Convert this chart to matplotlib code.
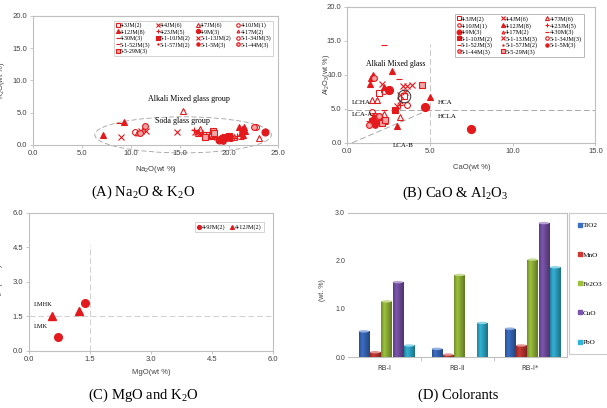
import numpy as np
import matplotlib
matplotlib.use('Agg')
from matplotlib import pyplot as plt
from matplotlib import colors as mcolors
from matplotlib.patches import Ellipse
from matplotlib.lines import Line2D

plt.rcParams['font.family'] = ['Liberation Sans', 'DejaVu Sans']

# ---------------- data ----------------
labels_a = ['4-3JM(2)', '4-4JM(6)', '4-7JM(6)', '4-10JM(1)', '4-12JM(8)', '4-23JM(5)',
            '4-9M(3)', '4-17M(2)', '4-30M(3)', '5-1-10JM(2)', '5-1-13JM(2)', '5-1-34JM(3)',
            '5-1-52JM(3)', '5-1-57JM(2)', '5-1-5M(3)', '5-1-44M(3)', '5-5-29M(3)']
labels_b = ['4-3JM(2)', '4-4JM(6)', '4-7JM(6)', '4-10JM(1)', '4-12JM(8)', '4-23JM(5)',
            '4-9M(3)', '4-17M(2)', '4-30M(3)', '5-1-10JM(2)', '5-1-13JM(3)', '5-1-34JM(3)',
            '5-1-52JM(3)', '5-1-57JM(2)', '5-1-5M(3)', '5-1-44M(3)', '5-5-29M(3)']

# (A) Na2O vs K2O
na2o = [[17.6, 17.9], [9.0, 14.7, 16.5, 11.0, 17.0, 18.5],
        [15.3, 17.0, 23.0, 16.8, 20.5, 18.2], [22.7],
        [7.1, 9.3, 21.0, 21.3, 21.5, 21.2, 21.4, 21.6],
        [17.2, 18.4, 19.4, 20.8, 16.4], [19.0, 19.3, 23.6], [10.6, 11.2],
        [8.8, 20.3, 21.2], [19.6, 20.0], [11.5, 16.7], [10.4, 18.1, 20.2],
        [19.5, 19.8, 20.6], [18.8, 20.1], [19.1, 19.4, 19.8], [10.9, 11.4, 22.5],
        [18.3, 18.4, 17.5]]
k2o = [[1.6, 1.5], [1.2, 2.0, 2.0, 2.2, 1.8, 1.3],
       [5.3, 2.4, 1.0, 1.9, 1.2, 1.4], [2.8],
       [1.5, 3.5, 2.8, 2.5, 2.7, 1.9, 1.6, 2.2],
       [1.5, 1.2, 1.0, 1.3, 2.3], [0.8, 1.1, 2.0], [1.8, 2.4],
       [3.4, 1.0, 0.9], [1.2, 1.4], [2.1, 2.0], [2.0, 1.4, 1.0],
       [0.9, 0.7, 1.0], [1.1, 0.8], [0.9, 0.6, 1.0], [1.9, 2.9, 2.7],
       [2.2, 1.8, 1.2]]

# (B) CaO vs Al2O3
cao = [[3.45, 1.9], [2.1, 3.6, 3.9, 3.2, 3.5, 1.7],
       [1.5, 1.8, 3.2, 2.0, 1.6, 2.2], [3.6],
       [1.55, 1.45, 1.4, 2.7, 2.2, 5.0, 3.0, 1.7],
       [1.5, 2.0, 1.8, 3.2, 1.3], [4.7, 7.5, 2.5], [1.9, 2.1],
       [3.1, 2.2, 1.6], [2.9, 2.1], [3.0, 3.4, 3.2], [1.5, 2.2, 1.7],
       [2.2, 1.9, 2.3], [1.6, 2.0], [1.4, 1.7, 1.5], [1.3, 1.6, 1.9],
       [4.5, 2.1, 2.3]]
al2o3 = [[6.9, 7.4], [8.7, 8.4, 8.5, 7.0, 7.5, 3.9],
         [6.3, 6.3, 3.8, 3.5, 3.0, 4.2], [5.5],
         [10.0, 9.6, 8.6, 10.6, 8.2, 6.7, 2.4, 3.3],
         [3.6, 4.0, 2.8, 5.6, 3.2], [5.3, 2.1, 7.7], [3.1, 2.9],
         [9.4, 4.8, 4.4], [4.8, 3.2], [5.4, 8.4, 6.2], [4.6, 7.6, 3.6],
         [14.4, 4.2, 2.7], [3.9, 2.6], [2.8, 2.6, 3.4], [2.6, 9.5, 4.0],
         [8.5, 2.9, 3.3]]
highlight_b = (0, 0)  # series, point circled in black

# (C) MgO vs K2O
labels_c = ['4-9JM(2)', '4-12JM(2)']
mgo_c = [[0.7, 1.38], [0.55, 1.22]]
k2o_c = [[0.6, 2.08], [1.52, 1.73]]

# (D) colorants
groups_d = ['RB-\u2160', 'RB-\u2161', 'RB-\u2160*']
oxides_d = ['TiO2', 'MnO', 'Fe2O3', 'CuO', 'PbO']
values_d = [[0.535, 0.17, 0.59],
            [0.10, 0.05, 0.24],
            [1.16, 1.71, 2.03],
            [1.56, 0.0, 2.79],
            [0.24, 0.71, 1.87]]
colors_d = ['#3b6fc6', '#cc3a33', '#9cc23c', '#7d55ae', '#31b4d6']

# ---------------- styles ----------------
red = '#e3191c'
pink = '#f4a4a4'
styles = [('s', 'none', 4.2), ('x', red, 4.2), ('^', 'none', 4.8), ('o', 'none', 4.2),
          ('^', red, 4.8), ('+', red, 4.2), ('o', red, 5.0), ('^', 'none', 3.4),
          ('_', red, 4.0), ('s', red, 4.2), ('x', red, 3.8), ('o', 'none', 4.2),
          ('_', red, 5.0), ('.', red, 3.0), ('o', red, 4.0), ('o', pink, 4.2),
          ('s', pink, 4.2)]

grid_c = '#c8c8c8'
spine_c = '#bfbfbf'
tick_c = '#404040'


def style_axes(ax):
    for s in ax.spines.values():
        s.set_color(spine_c)
        s.set_linewidth(0.8)
    ax.tick_params(labelsize=5.5, labelcolor=tick_c, color=spine_c, length=2, width=0.6, pad=2)


def row_major(n, ncol):
    nrow = int(np.ceil(n / ncol))
    return [r * ncol + c for c in range(ncol) for r in range(nrow) if r * ncol + c < n]


fig = plt.figure(figsize=(6.07, 4.08), dpi=100)

# ---------------- (A) ----------------
axa = fig.add_axes([0.0544, 0.645, 0.404, 0.316])
handles = []
for i, lab in enumerate(labels_a):
    m, fc, ms = styles[i]
    h, = axa.plot(na2o[i], k2o[i], linestyle='none', marker=m, markersize=ms,
                  markerfacecolor=fc, markeredgecolor=red, markeredgewidth=0.8,
                  label=lab, zorder=3)
    handles.append(h)
axa.set_xlim(0, 25)
axa.set_ylim(0, 20)
axa.set_xticks(np.arange(0, 26, 5))
axa.set_yticks(np.arange(0, 21, 5))
axa.xaxis.set_major_formatter('{x:.1f}')
axa.yaxis.set_major_formatter('{x:.1f}')
style_axes(axa)
axa.set_xlabel('Na$\\mathregular{_2}$O(wt %)', fontsize=5.5, color=tick_c)
axa.xaxis.set_label_coords(0.5, -0.15)
axa.set_ylabel('K$\\mathregular{_2}$O(wt %)', fontsize=5.5, color=tick_c)
axa.yaxis.set_label_coords(-0.105, 0.5)
axa.add_patch(Ellipse((15.3, 1.55), 18.0, 5.6, fill=False, edgecolor='#a0a0a0',
                      linestyle=(0, (6, 3)), linewidth=0.6, clip_on=False))
axa.text(15.9, 7.1, 'Alkali Mixed glass group', family='Liberation Serif',
         fontsize=5.8, ha='center', va='center')
axa.text(15.2, 3.7, 'Soda glass group', family='Liberation Serif',
         fontsize=5.8, ha='center', va='center')
order = row_major(len(handles), 4)
leg = axa.legend([handles[k] for k in order], [labels_a[k] for k in order], ncol=4,
                 loc='upper right', bbox_to_anchor=(0.99, 0.985),
                 prop={'family': 'Liberation Serif', 'size': 4.3},
                 frameon=True, fancybox=False, handlelength=0.6, handletextpad=0.1,
                 columnspacing=0.9, labelspacing=0.12, borderpad=0.3, markerscale=0.6)
leg.get_frame().set_edgecolor(spine_c)
leg.get_frame().set_linewidth(0.6)

# ---------------- (B) ----------------
axb = fig.add_axes([0.572, 0.650, 0.409, 0.333])
handles = []
for i, lab in enumerate(labels_b):
    m, fc, ms = styles[i]
    if i == 6:
        ms = 5.8
    h, = axb.plot(cao[i], al2o3[i], linestyle='none', marker=m, markersize=ms,
                  markerfacecolor=fc, markeredgecolor=red, markeredgewidth=0.8,
                  label=lab, zorder=3)
    handles.append(h)
si, pi = highlight_b
axb.plot(cao[si][pi], al2o3[si][pi], linestyle='none', marker='o', markersize=9,
         markerfacecolor='none', markeredgecolor='#333333', markeredgewidth=0.7, zorder=4)
axb.set_xlim(0, 15)
axb.set_ylim(0, 20)
axb.set_xticks(np.arange(0, 16, 5))
axb.set_yticks(np.arange(0, 21, 5))
axb.xaxis.set_major_formatter('{x:.1f}')
axb.yaxis.set_major_formatter('{x:.1f}')
style_axes(axb)
axb.set_xlabel('CaO(wt %)', fontsize=5.5, color=tick_c)
axb.xaxis.set_label_coords(0.5, -0.155)
axb.set_ylabel('Al$\\mathregular{_2}$O$\\mathregular{_3}$(wt %)', fontsize=5.3, color=tick_c)
axb.yaxis.set_label_coords(-0.062, 0.5)
dash = (0, (6, 3))
axb.plot([5, 5], [0, 14.5], color=grid_c, linestyle=dash, linewidth=0.7, zorder=1)
axb.plot([0, 15], [4.9, 4.9], color='#a8a8a8', linestyle=dash, linewidth=0.7, zorder=1)
axb.plot([0.3, 5], [0, 4.9], color='#a8a8a8', linestyle=dash, linewidth=0.7, zorder=1)
serif = 'Liberation Serif'
axb.text(2.9, 11.6, 'Alkali Mixed glass', family=serif, fontsize=5.6, ha='center', va='center')
axb.text(0.3, 6.0, 'LCHA', family=serif, fontsize=5.0, ha='left', va='center')
axb.text(0.3, 4.2, 'LCA-A', family=serif, fontsize=5.0, ha='left', va='center')
axb.text(5.45, 5.9, 'HCA', family=serif, fontsize=5.0, ha='left', va='center')
axb.text(5.45, 3.9, 'HCLA', family=serif, fontsize=5.0, ha='left', va='center')
axb.text(3.4, -0.4, 'LCA-B', family=serif, fontsize=5.0, ha='center', va='center', clip_on=False)
order = row_major(len(handles), 3)
leg = axb.legend([handles[k] for k in order], [labels_b[k] for k in order], ncol=3,
                 loc='upper right', bbox_to_anchor=(0.965, 0.97),
                 prop={'family': 'Liberation Serif', 'size': 4.6},
                 frameon=True, fancybox=False, handlelength=0.6, handletextpad=0.1,
                 columnspacing=1.2, labelspacing=0.12, borderpad=0.3, markerscale=0.6)
leg.get_frame().set_edgecolor('#999999')
leg.get_frame().set_linewidth(0.6)

# ---------------- (C) ----------------
axc = fig.add_axes([0.048, 0.140, 0.402, 0.338])
c_markers = ['o', '^']
handles = []
for i, lab in enumerate(labels_c):
    h, = axc.plot(mgo_c[i], k2o_c[i], linestyle='none', marker=c_markers[i], markersize=5.5,
                  color=red, label=lab, zorder=3)
    handles.append(h)
axc.set_xlim(0, 6)
axc.set_ylim(0, 6)
axc.set_xticks(np.arange(0, 6.1, 1.5))
axc.set_yticks(np.arange(0, 6.1, 1.5))
axc.xaxis.set_major_formatter('{x:.1f}')
axc.yaxis.set_major_formatter('{x:.1f}')
style_axes(axc)
axc.set_xlabel('MgO(wt %)', fontsize=5.5, color=tick_c)
axc.xaxis.set_label_coords(0.5, -0.13)
axc.set_ylabel('K$\\mathregular{_2}$O(wt %)', fontsize=5.5, color=tick_c)
axc.yaxis.set_label_coords(-0.1, 0.5)
axc.plot([1.5, 1.5], [0, 4.6], color='#d0d0d0', linestyle=dash, linewidth=0.7, zorder=1)
axc.plot([0, 6], [1.5, 1.5], color='#d0d0d0', linestyle=dash, linewidth=0.7, zorder=1)
axc.text(0.12, 2.0, 'LMHK', family=serif, fontsize=4.6, ha='left', va='center')
axc.text(0.12, 1.05, 'LMK', family=serif, fontsize=4.6, ha='left', va='center')
leg = axc.legend(handles, labels_c, ncol=2, loc='upper right', bbox_to_anchor=(0.975, 0.955),
                 prop={'family': 'Liberation Serif', 'size': 4.5},
                 frameon=True, fancybox=False, handlelength=0.6, handletextpad=0.1,
                 columnspacing=0.8, borderpad=0.35, markerscale=0.5)
leg.get_frame().set_edgecolor(spine_c)
leg.get_frame().set_linewidth(0.6)

# ---------------- (D) ----------------
axd = fig.add_axes([0.573, 0.125, 0.361, 0.353])
xg = np.arange(len(groups_d))
nb = len(oxides_d)
step = 0.155
bw = 0.145
t = np.linspace(0, 1, 40)
prof = np.interp(t, [0, 0.3, 1], [0.72, 1.0, 0.62])
for j, ox in enumerate(oxides_d):
    xs = xg + (j - (nb - 1) / 2) * step + 0.03
    bars = axd.bar(xs, values_d[j], width=bw, color=colors_d[j], zorder=2, label=ox)
    rgb = np.array(mcolors.to_rgb(colors_d[j]))
    light = 1 - (1 - rgb) * 0.55
    img = np.array([np.clip(np.where(p >= 1, light, rgb * p), 0, 1) for p in prof])
    for b, v in zip(bars, values_d[j]):
        if v <= 0:
            continue
        x0 = b.get_x()
        im = axd.imshow(img[None, :, :], extent=(x0, x0 + bw, 0, v), aspect='auto',
                        zorder=3, interpolation='bilinear')
        im.set_clip_path(b)
        axd.add_patch(Ellipse((x0 + bw / 2, v), bw, 0.05, facecolor=light,
                              edgecolor='none', zorder=4))
axd.set_xlim(-0.5, 2.5)
axd.set_ylim(0, 3.0)
axd.set_yticks(np.arange(0, 3.1, 1.0))
axd.yaxis.set_major_formatter('{x:.1f}')
axd.set_xticks(xg)
axd.set_xticklabels(groups_d, family=['DejaVu Sans', 'Noto Sans CJK KR'])
axd.set_xticks([0.5, 1.5], minor=True)
style_axes(axd)
axd.tick_params(axis='x', which='major', length=0, pad=6, labelsize=5)
axd.tick_params(axis='x', which='minor', length=3, color=spine_c)
axd.tick_params(axis='y', length=0, labelsize=5)
axd.spines['left'].set_visible(False)
axd.set_ylabel('(wt. %)', fontsize=5, color=tick_c)
axd.yaxis.set_label_coords(-0.1, 0.465)
dh = [Line2D([], [], linestyle='none', marker='s', markersize=3, color=c) for c in colors_d]
leg = fig.legend(dh, oxides_d, loc='upper left', bbox_to_anchor=(0.937, 0.478),
                 prop={'family': 'Liberation Serif', 'size': 5.2},
                 frameon=True, fancybox=False, handlelength=0.5, handletextpad=0.2,
                 labelspacing=3.2, borderpad=1.3, borderaxespad=0)
leg.get_frame().set_edgecolor(spine_c)
leg.get_frame().set_linewidth(0.8)

# ---------------- captions ----------------
cap = dict(family='Liberation Serif', fontsize=10.5, ha='center', va='center')
fig.text(0.236, 0.529, '(A) Na$\\mathregular{_2}$O & K$\\mathregular{_2}$O', **cap)
fig.text(0.750, 0.527, '(B) CaO & Al$\\mathregular{_2}$O$\\mathregular{_3}$', **cap)
fig.text(0.236, 0.032, '(C) MgO and K$\\mathregular{_2}$O', **cap)
fig.text(0.755, 0.032, '(D) Colorants', **cap)

fig.savefig('out.png', dpi=100)
